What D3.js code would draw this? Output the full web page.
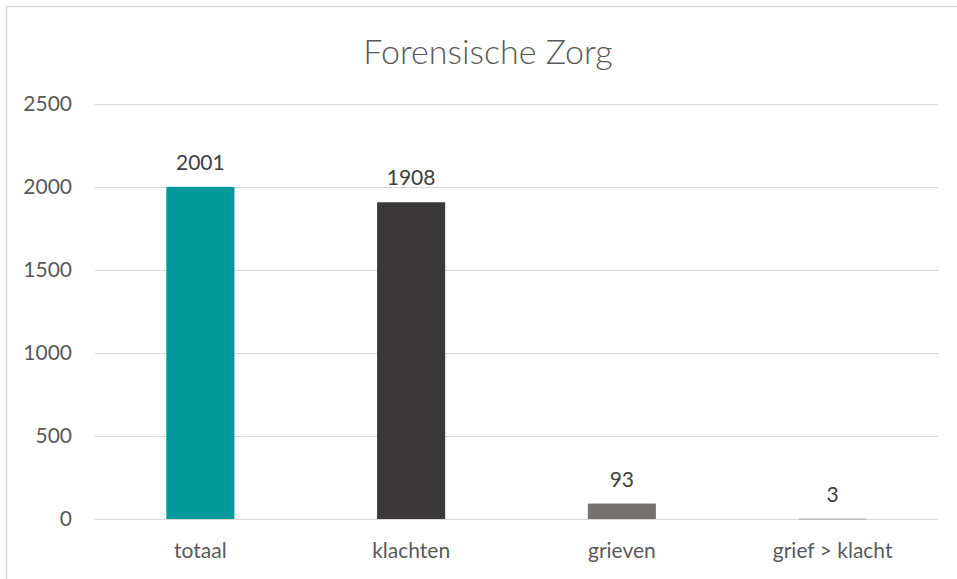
<!DOCTYPE html>
<html>
<head>
<meta charset="utf-8">
<script src="https://cdn.jsdelivr.net/npm/d3@7"></script>
<style>
  body { margin: 0; background: #fff; }
  text { font-family: Lato, "Open Sans", sans-serif; fill: #595959; }
</style>
</head>
<body>
<div id="chart"></div>
<script>
// Chart data
const categories = ["totaal", "klachten", "grieven", "grief > klacht"];
const values = [2001, 1908, 93, 3];
const barColors = ["#009999", "#3a3838", "#767171", "#aeaaaa"];
const yTicks = [0, 500, 1000, 1500, 2000, 2500];

const width = 957, height = 579;
const margin = { top: 104, right: 19, bottom: 60, left: 95 };

const svg = d3.select("#chart")
  .append("svg")
  .attr("width", width)
  .attr("height", height);

// outer frame (top + left edges visible)
svg.append("path")
  .attr("d", `M6.5,${height} V6.5 H${width}`)
  .attr("fill", "none")
  .attr("stroke", "#d9d9d9")
  .attr("stroke-width", 1.5);

const x = d3.scaleBand()
  .domain(categories)
  .range([margin.left, width - margin.right])
  .paddingInner(0.677)
  .paddingOuter(0.3385);

const y = d3.scaleLinear()
  .domain([0, 2500])
  .range([height - margin.bottom, margin.top]);

// gridlines
svg.append("g")
  .selectAll("line")
  .data(yTicks)
  .join("line")
  .attr("x1", margin.left)
  .attr("x2", width - margin.right)
  .attr("y1", d => Math.round(y(d)) + 0.5)
  .attr("y2", d => Math.round(y(d)) + 0.5)
  .attr("stroke", "#d9d9d9")
  .attr("stroke-width", 1.2);

// y axis labels
const yAxis = svg.append("g")
  .attr("transform", `translate(${margin.left - 23},0)`)
  .call(d3.axisLeft(y).tickValues(yTicks).tickFormat(d3.format("d")).tickSize(0).tickPadding(0));
yAxis.select(".domain").remove();
yAxis.selectAll("text")
  .attr("font-size", 21)
  .attr("fill", "#595959")
  .style("font-family", "Lato, 'Open Sans', sans-serif");

// x axis labels
const xAxis = svg.append("g")
  .attr("transform", `translate(0,${height - margin.bottom + 22})`)
  .call(d3.axisBottom(x).tickSize(0).tickPadding(0));
xAxis.select(".domain").remove();
xAxis.selectAll("text")
  .attr("font-size", 21)
  .attr("fill", "#595959")
  .attr("dy", "0.8em")
  .style("font-family", "Lato, 'Open Sans', sans-serif");

// bars
svg.append("g")
  .selectAll("rect")
  .data(values)
  .join("rect")
  .attr("x", (d, i) => x(categories[i]))
  .attr("width", x.bandwidth())
  .attr("y", d => y(d))
  .attr("height", d => Math.max(1, y(0) - y(d)))
  .attr("fill", (d, i) => barColors[i]);

// value labels
svg.append("g")
  .selectAll("text")
  .data(values)
  .join("text")
  .attr("x", (d, i) => x(categories[i]) + x.bandwidth() / 2)
  .attr("y", d => y(d) - 17)
  .attr("text-anchor", "middle")
  .attr("font-size", 21)
  .style("fill", "#404040")
  .text(d => d);

// title
svg.append("text")
  .attr("x", 488)
  .attr("y", 64)
  .attr("text-anchor", "middle")
  .attr("font-size", 34)
  .attr("font-weight", 300)
  .text("Forensische Zorg");
</script>
</body>
</html>
